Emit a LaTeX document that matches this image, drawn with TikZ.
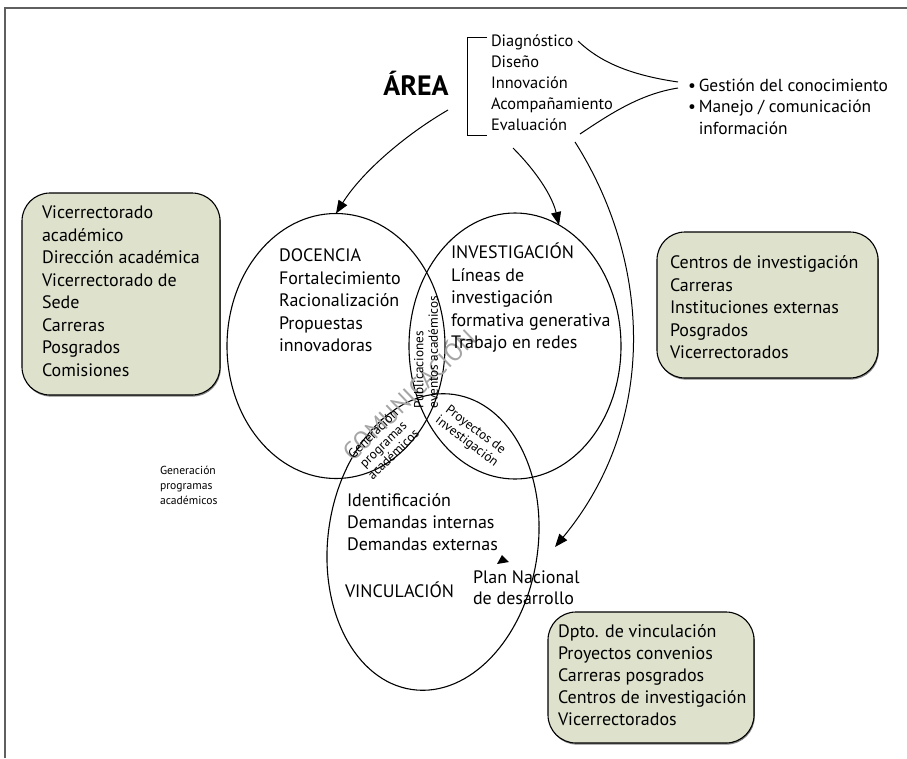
\documentclass[tikz,border=0pt]{standalone}
\usepackage{fontspec}
\setmainfont{PT Sans}
\usetikzlibrary{arrows.meta,shadows,shapes.geometric}
\definecolor{boxfill}{RGB}{222,226,205}
\definecolor{framegray}{RGB}{95,95,95}
\definecolor{markgray}{RGB}{165,165,165}
\begin{document}
\begin{tikzpicture}[x=1pt,y=-1pt,
  every node/.style={inner sep=0pt, outer sep=0pt},
  body/.style={font=\fontsize{18}{22.5}\selectfont, align=left, anchor=north west},
  listtext/.style={font=\fontsize{16.4}{21}\selectfont, align=left, anchor=north west},
  bullettext/.style={font=\fontsize{17.4}{21.5}\selectfont, align=left, anchor=north west},
  lens/.style={font=\fontsize{13.2}{14.5}\selectfont, align=center},
  smalltext/.style={font=\fontsize{11.6}{15}\selectfont, align=left, anchor=north west},
  setbox/.style={draw=black, line width=1.1pt, fill=boxfill, rounded corners=28pt,
    anchor=north west, drop shadow={shadow xshift=0.8pt, shadow yshift=-1.6pt, fill=black!60, opacity=0.8}},
  area/.style={ellipse, draw=black, line width=1.1pt},
  link/.style={line width=1pt, -{Triangle[length=13pt,width=10pt]}},
  thinline/.style={line width=1pt},
]
\useasboundingbox (0,0) rectangle (907,758);

% outer frame (top and left edges)
\draw[framegray, line width=1.3pt] (5,758) -- (5,8) -- (907,8);

% title and the bracketed list of functions
\node[font=\fontsize{28}{30}\selectfont\bfseries, anchor=base] (title) at (416,95) {ÁREA};
\draw[thinline] (487,37) -- (467,37) -- (467,135) -- (487,135);
\node[listtext] (functions) at (491,32) {\strut Diagnóstico\\Diseño\\Innovación\\Acompañamiento\\Evaluación};

% brace-like curves joining the list to the support functions
\coordinate (braceTip1) at (678,82);
\coordinate (braceTip2) at (678,88);
\draw[thinline] (578,41) .. controls (600,62) and (630,75) .. (braceTip1);
\draw[thinline] (580,134) .. controls (610,114) and (640,94) .. (braceTip2);
\node[bullettext] (support) at (688,76) {\strut\textbullet\,Gestión del conocimiento\\\textbullet\,Manejo / comunicación\\\phantom{\textbullet\,}información};

% the three overlapping areas
\node[area, minimum width=218pt, minimum height=265pt] (doc) at (336,346) {};
\node[area, minimum width=212pt, minimum height=266pt] (inv) at (515,346) {};
\node[area, minimum width=210pt, minimum height=298pt, rotate=-8] (vin) at (433,542) {};

% watermark across the overlaps
\node[font=\fontsize{25}{26}\selectfont, text=markgray, rotate=44] (comm) at (408,394) {COMUNICACIÓN};

% area contents
\node[body] (docText) at (279,246) {\strut DOCENCIA\\Fortalecimiento\\Racionalización\\Propuestas\\innovadoras};
\node[body] (invText) at (451,243) {\strut INVESTIGACIÓN\\Líneas de\\investigación\\formativa generativa\\Trabajo en redes};
\node[body, font=\fontsize{18}{22}\selectfont] (vinText) at (347,491) {\strut Identificación\\Demandas internas\\Demandas externas};
\node[body, anchor=base west] (vinTitle) at (345,597) {VINCULACIÓN};
\node[body, font=\fontsize{18}{21.5}\selectfont] (plan) at (473,568) {\strut Plan Nacional\\de desarrollo};

% texts in the overlaps
\node[lens, rotate=90, align=left] (pub) at (426,352) {Publicaciones\\eventos académicos};
\node[lens, rotate=44] (gen) at (383,444) {Generación\\programas\\académicos};
\node[lens, rotate=-37] (proj) at (471,436) {Proyectos de\\investigación};

% side note
\node[smalltext] (genNote) at (160,464) {\strut Generación\\programas\\académicos};

% arrows from the function list to the areas
\coordinate (fromTitle) at (448,110);
\coordinate (fromList) at (513,148);
\coordinate (fromBracket) at (575,142);
\coordinate (planTip) at (555,547);
\draw[link] (fromTitle) .. controls (405,135) and (362,172) .. (doc.north);
\draw[link] (fromList) .. controls (535,170) and (552,195) .. (inv.70);
\draw[link] (fromBracket) .. controls (650,260) and (660,420) .. (planTip);
\fill (502,555) -- (497,564) -- (509,562) -- cycle;

% actors of each area
\node[setbox, minimum width=198pt, minimum height=202pt] (box1) at (22,193) {};
\node[body] (box1Text) at (42,203) {\strut Vicerrectorado\\académico\\Dirección académica\\Vicerrectorado de\\Sede\\Carreras\\Posgrados\\Comisiones};
\node[setbox, minimum width=221pt, minimum height=146pt] (box2) at (657,232) {};
\node[body] (box2Text) at (670,253) {\strut Centros de investigación\\Carreras\\Instituciones externas\\Posgrados\\Vicerrectorados};
\node[setbox, minimum width=206pt, minimum height=131pt] (box3) at (548,612) {};
\node[body, font=\fontsize{18}{22}\selectfont] (box3Text) at (558,622) {\strut Dpto. de vinculación\\Proyectos convenios\\Carreras posgrados\\Centros de investigación\\Vicerrectorados};
\end{tikzpicture}
\end{document}
